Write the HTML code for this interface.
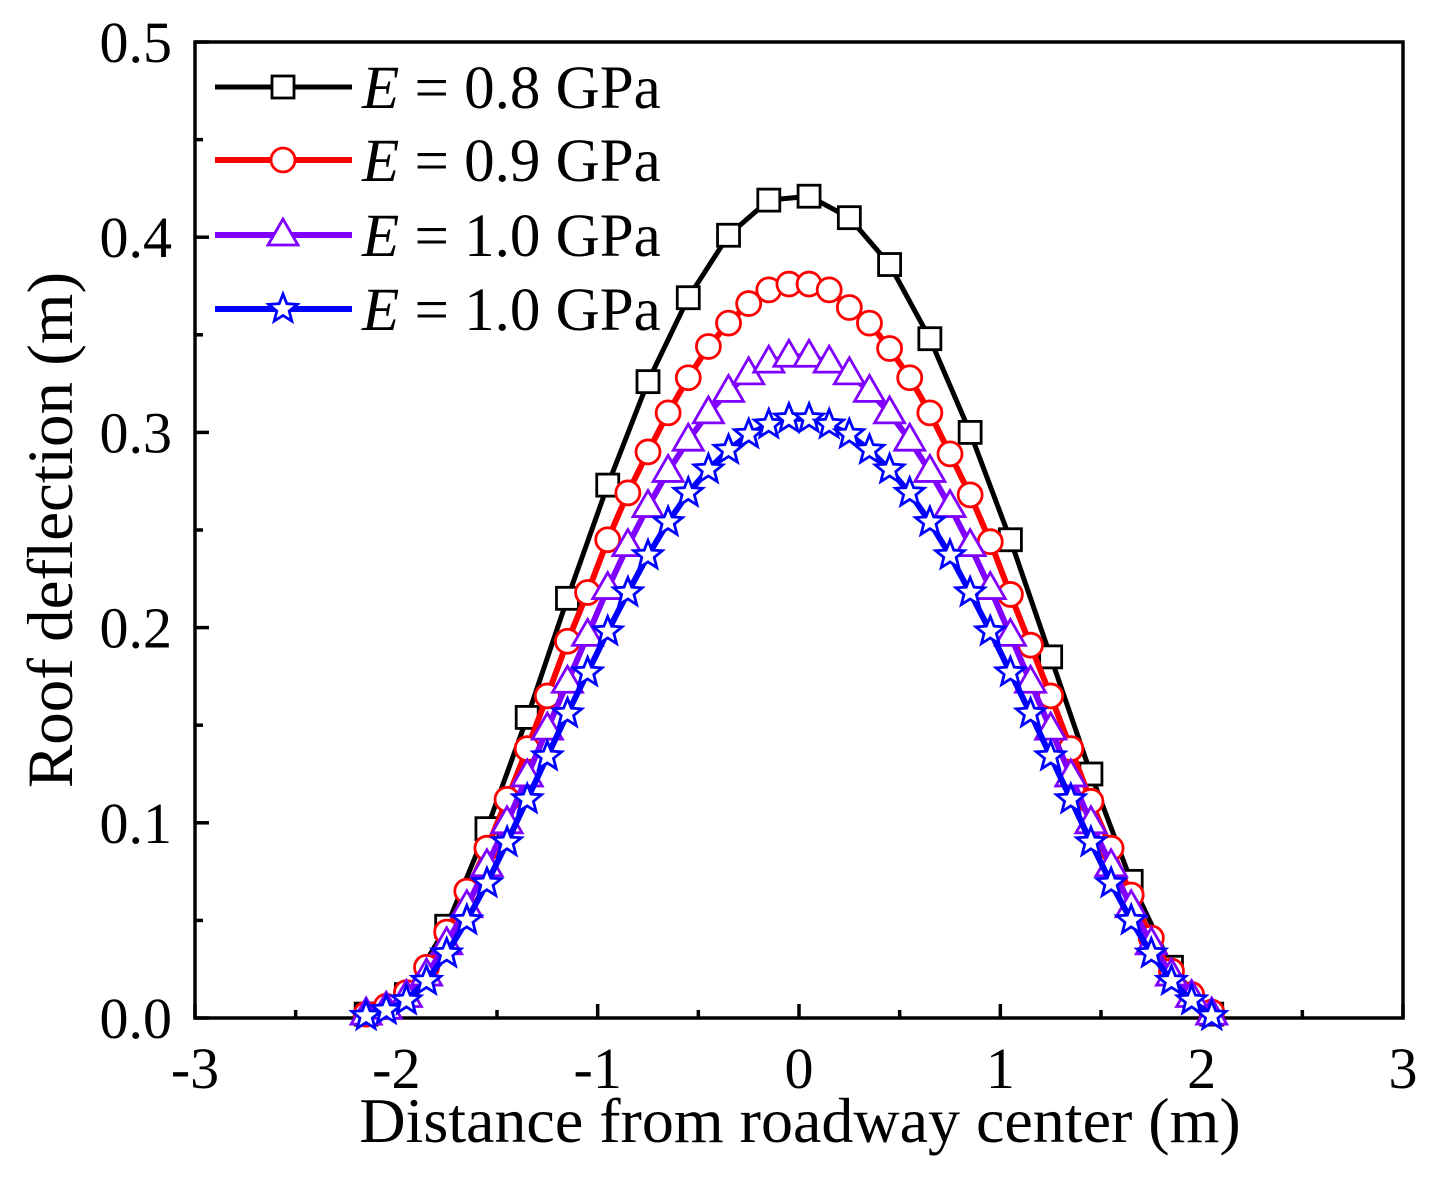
<!DOCTYPE html>
<html><head><meta charset="utf-8"><style>
html,body{margin:0;padding:0;background:#fff}
svg text{font-family:"Liberation Serif",serif}
</style></head><body>
<svg id="chart" width="1442" height="1176" viewBox="0 0 1442 1176" xmlns="http://www.w3.org/2000/svg"></svg>
<script>
const xTicks=[-3,-2,-1,0,1,2,3];
const xTickLabels=["-3","-2","-1","0","1","2","3"];
const yTicks=[0,0.1,0.2,0.3,0.4,0.5];
const yTickLabels=["0.0","0.1","0.2","0.3","0.4","0.5"];
const xBlack=[-2.15,-1.95,-1.75,-1.55,-1.35,-1.15,-0.95,-0.75,-0.55,-0.35,-0.15,0.05,0.25,0.45,0.65,0.85,1.05,1.25,1.45,1.65,1.85,2.05];
const yBlack=[0.002,0.012,0.047,0.097,0.154,0.215,0.273,0.326,0.369,0.401,0.419,0.421,0.410,0.386,0.348,0.300,0.245,0.185,0.125,0.070,0.026,0.002];
const xFine=[-2.15,-2.05,-1.95,-1.85,-1.75,-1.65,-1.55,-1.45,-1.35,-1.25,-1.15,-1.05,-0.95,-0.85,-0.75,-0.65,-0.55,-0.45,-0.35,-0.25,-0.15,-0.05,0.05,0.15,0.25,0.35,0.45,0.55,0.65,0.75,0.85,0.95,1.05,1.15,1.25,1.35,1.45,1.55,1.65,1.75,1.85,1.95,2.05];
const yRed=[0.002,0.006,0.013,0.026,0.044,0.065,0.087,0.112,0.138,0.165,0.193,0.218,0.245,0.269,0.290,0.310,0.328,0.344,0.356,0.366,0.373,0.376,0.376,0.373,0.364,0.356,0.343,0.328,0.310,0.289,0.268,0.244,0.217,0.191,0.165,0.138,0.111,0.087,0.063,0.041,0.024,0.012,0.003];
const yPurple=[0.002,0.005,0.011,0.022,0.038,0.057,0.078,0.100,0.124,0.148,0.172,0.196,0.220,0.242,0.262,0.280,0.296,0.310,0.321,0.330,0.336,0.339,0.339,0.336,0.330,0.321,0.310,0.296,0.280,0.262,0.242,0.220,0.196,0.172,0.148,0.124,0.100,0.078,0.057,0.038,0.022,0.011,0.002];
const yBlue=[0.001,0.004,0.009,0.019,0.033,0.050,0.069,0.090,0.112,0.134,0.156,0.177,0.198,0.218,0.237,0.254,0.269,0.281,0.291,0.299,0.304,0.307,0.307,0.304,0.299,0.291,0.281,0.269,0.254,0.237,0.218,0.198,0.177,0.156,0.134,0.112,0.090,0.069,0.050,0.033,0.019,0.009,0.001];
const legendLabels=["0.8 GPa","0.9 GPa","1.0 GPa","1.0 GPa"];

const NS="http://www.w3.org/2000/svg";
const svg=document.getElementById('chart');
const L=195,R=1403,T=42,B=1018;
const xs=v=>L+(v+3)/6*(R-L);
const ys=v=>B-v/0.5*(B-T);
function mk(tag,attrs,parent){const e=document.createElementNS(NS,tag);for(const k in attrs)e.setAttribute(k,attrs[k]);(parent||svg).appendChild(e);return e;}

const frame=mk('rect',{x:L,y:T,width:R-L,height:B-T,fill:'none',stroke:'#000','stroke-width':3.5});



xTicks.forEach((v,i)=>{
  const t=mk('line',{x1:xs(v),x2:xs(v),y1:B,y2:B-14,stroke:'#000','stroke-width':3.5});
  
  
  if(i<xTicks.length-1){
    const m=mk('line',{x1:xs(v+0.5),x2:xs(v+0.5),y1:B,y2:B-8,stroke:'#000','stroke-width':3.5});
    
    
  }
  const lb=mk('text',{x:xs(v),y:1088,'font-size':58,'text-anchor':'middle'});
  lb.textContent=xTickLabels[i];
  
  
});
yTicks.forEach((v,i)=>{
  const t=mk('line',{x1:L,x2:L+14,y1:ys(v),y2:ys(v),stroke:'#000','stroke-width':3.5});
  
  
  if(i<yTicks.length-1){
    const m=mk('line',{x1:L,x2:L+8,y1:ys(v+0.05),y2:ys(v+0.05),stroke:'#000','stroke-width':3.5});
    
    
  }
  const lb=mk('text',{x:172,y:ys(v)+20,'font-size':58,'text-anchor':'end'});
  lb.textContent=yTickLabels[i];
  
  
});
const xt=mk('text',{x:800,y:1142,'font-size':64,'text-anchor':'middle'});
xt.textContent='Distance from roadway center (m)';


const yt=mk('text',{x:0,y:0,'font-size':65,'text-anchor':'middle',transform:'translate(72,530) rotate(-90)'});
yt.textContent='Roof deflection (m)';



function marker(type,cx,cy,color,g){
  let e;
  if(type==='square'){e=mk('rect',{x:cx-11,y:cy-11,width:22,height:22,fill:'#fff',stroke:color,'stroke-width':2.8},g);}
  else if(type==='circle'){e=mk('circle',{cx:cx,cy:cy,r:12,fill:'#fff',stroke:color,'stroke-width':2.8},g);}
  else if(type==='triangle'){e=mk('polygon',{points:`${cx},${cy-16} ${cx-15},${cy+10} ${cx+15},${cy+10}`,fill:'#fff',stroke:color,'stroke-width':2.8},g);}
  else{let p=[];for(let k=0;k<10;k++){const r=k%2?6.5:15;const a=-Math.PI/2+k*Math.PI/5;p.push((cx+r*Math.cos(a)).toFixed(1)+','+(cy+r*Math.sin(a)).toFixed(1));}
    e=mk('polygon',{points:p.join(' '),fill:'#fff',stroke:color,'stroke-width':2.8},g);}
  return e;
}
const series=[
 {x:xBlack,y:yBlack,c:'#000',m:'square',w:5,n:'series-e-0-8'},
 {x:xFine,y:yRed,c:'#ff0000',m:'circle',w:6,n:'series-e-0-9'},
 {x:xFine,y:yPurple,c:'#8000ff',m:'triangle',w:6,n:'series-e-1-0-a'},
 {x:xFine,y:yBlue,c:'#0000ff',m:'star',w:6,n:'series-e-1-0-b'}
];
series.forEach((s,si)=>{
  const g=mk('g',{});
  
  
  const pts=s.x.map((v,i)=>xs(v).toFixed(1)+','+ys(s.y[i]).toFixed(1)).join(' ');
  const pl=mk('polyline',{points:pts,fill:'none',stroke:s.c,'stroke-width':s.w,'stroke-linejoin':'round'},g);
  
  
  s.x.forEach((v,i)=>{
    const e=marker(s.m,xs(v),ys(s.y[i]),s.c,g);
    
    
  });
  const ly=[87,160,235,309][si];
  const lg=mk('g',{});
  
  
  mk('line',{x1:215,x2:352,y1:ly,y2:ly,stroke:s.c,'stroke-width':s.w},lg);
  marker(s.m,283,ly,s.c,lg);
  const tx=mk('text',{x:362,y:ly+21,'font-size':61},lg);
  const it=mk('tspan',{'font-style':'italic'},tx);it.textContent='E';
  const rest=mk('tspan',{},tx);rest.textContent=' = '+legendLabels[si];
});
</script>
</body></html>
